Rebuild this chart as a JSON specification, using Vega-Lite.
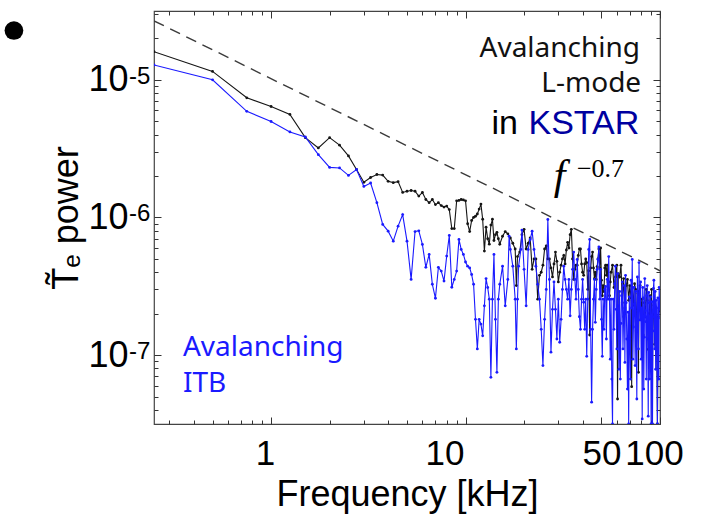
{
  "$schema": "https://vega.github.io/schema/vega-lite/v6.json",
  "width": 506,
  "height": 413,
  "autosize": {"type": "none"},
  "padding": {"left": 154, "top": 11, "right": 43, "bottom": 96},
  "background": "white",
  "config": {"view": {"stroke": "#444", "strokeWidth": 1.2}, "font": "Liberation Sans"},
  "datasets": {
    "fit": [{"f": 0.25, "p": 2.68e-5}, {"f": 100, "p": 4.1e-7}],
    "exps": [{"p": 1e-5, "e": "-5"}, {"p": 1e-6, "e": "-6"}, {"p": 1e-7, "e": "-7"}],
    "lm": [
      {"f":0.25,"p":1.6e-5},{"f":0.5,"p":1.15e-5},{"f":0.75,"p":7.4e-6},{"f":1,"p":6.4e-6},{"f":1.25,"p":5.6e-6},{"f":1.5,"p":3.8e-6},{"f":1.75,"p":3.2e-6},{"f":2,"p":3.8e-6},{"f":2.25,"p":3.35e-6},{"f":2.5,"p":2.8e-6},{"f":2.75,"p":2.23e-6},{"f":3,"p":1.8e-6},{"f":3.25,"p":1.95e-6},{"f":3.5,"p":2.05e-6},{"f":3.75,"p":2.03e-6},{"f":4,"p":1.83e-6},{"f":4.25,"p":1.79e-6},{"f":4.5,"p":1.82e-6},{"f":4.75,"p":1.52e-6},{"f":5,"p":1.55e-6},{"f":5.25,"p":1.57e-6},{"f":5.5,"p":1.55e-6},{"f":5.75,"p":1.43e-6},{"f":6,"p":1.52e-6},{"f":6.25,"p":1.35e-6},{"f":6.5,"p":1.28e-6},{"f":6.75,"p":1.35e-6},{"f":7,"p":1.24e-6},{"f":7.25,"p":1.28e-6},{"f":7.5,"p":1.22e-6},{"f":7.75,"p":1.19e-6},{"f":8,"p":1.21e-6},{"f":8.25,"p":1.14e-6},{"f":8.5,"p":8.3e-7},{"f":8.75,"p":8.3e-7},{"f":9,"p":1.32e-6},{"f":9.25,"p":1.33e-6},{"f":9.5,"p":1.35e-6},{"f":9.75,"p":1.34e-6},{"f":10,"p":1.32e-6},{"f":10.25,"p":9.0e-7},{"f":10.5,"p":7.9e-7},{"f":10.75,"p":9.5e-7},{"f":11,"p":1.0e-6},{"f":11.25,"p":1.02e-6},{"f":11.5,"p":1.06e-6},{"f":11.75,"p":1.15e-6},{"f":12,"p":1.25e-6},{"f":12.25,"p":9.7e-7},{"f":12.5,"p":5.7e-7},{"f":12.75,"p":8.5e-7},{"f":13,"p":7.0e-7},{"f":13.25,"p":6.4e-7},{"f":13.5,"p":8.8e-7},{"f":13.75,"p":9.7e-7},{"f":14,"p":6.8e-7},{"f":14.25,"p":7.5e-7},{"f":14.5,"p":7.8e-7},{"f":14.75,"p":7.0e-7},{"f":15,"p":6.4e-7},{"f":15.5,"p":7.3e-7},{"f":16,"p":7.9e-7},{"f":16.5,"p":7.6e-7},{"f":17,"p":7.1e-7},{"f":17.5,"p":6.5e-7},{"f":18,"p":5.9e-7},{"f":18.25,"p":3.2e-7},{"f":18.5,"p":5.2e-7},{"f":19,"p":5.6e-7},{"f":19.5,"p":7.5e-7},{"f":20,"p":8.2e-7},{"f":20.5,"p":5.9e-7},{"f":21,"p":6.5e-7},{"f":21.5,"p":7.1e-7},{"f":22,"p":4.2e-7},{"f":22.5,"p":5.0e-7},{"f":23,"p":5.0e-7},{"f":23.5,"p":2.55e-7},{"f":24,"p":3.8e-7},{"f":24.5,"p":4.0e-7},{"f":25,"p":4.5e-7},{"f":25.5,"p":5.9e-7},{"f":26,"p":6.2e-7},{"f":26.5,"p":5.0e-7},{"f":27,"p":5.0e-7},{"f":27.5,"p":4.3e-7},{"f":28,"p":3.7e-7},{"f":28.5,"p":4.6e-7},{"f":29,"p":5.6e-7},{"f":29.5,"p":4.8e-7},{"f":30,"p":3.4e-7},{"f":30.5,"p":4.0e-7},{"f":31,"p":4.5e-7},{"f":31.5,"p":5.0e-7},{"f":32,"p":5.3e-7},{"f":32.5,"p":4.6e-7},{"f":33,"p":5.8e-7},{"f":33.5,"p":6.6e-7},{"f":34,"p":6.0e-7},{"f":34.5,"p":7.5e-7},{"f":35,"p":8.2e-7},{"f":35.5,"p":5.0e-7},{"f":36,"p":3.55e-7},{"f":36.5,"p":4.2e-7},{"f":37,"p":4.5e-7},{"f":37.5,"p":4.5e-7},{"f":38,"p":5.3e-7},{"f":38.5,"p":5.9e-7},{"f":39,"p":5.9e-7},{"f":39.5,"p":4.6e-7},{"f":40,"p":4.0e-7},{"f":40.5,"p":3.8e-7},{"f":41,"p":4.6e-7},{"f":41.5,"p":5.0e-7},{"f":42,"p":4.7e-7},{"f":42.5,"p":3.0e-7},{"f":43,"p":4.1e-7},{"f":43.5,"p":1.4e-7},{"f":44,"p":4.3e-7},{"f":44.5,"p":5.2e-7},{"f":45,"p":5.6e-7},{"f":45.5,"p":4.3e-7},{"f":46,"p":3.6e-7},{"f":46.5,"p":4.0e-7},{"f":47,"p":3.55e-7},{"f":47.5,"p":4.4e-7},{"f":48,"p":5.0e-7},{"f":48.5,"p":5.9e-7},{"f":49,"p":4.3e-7},{"f":49.5,"p":6.0e-7},{"f":50,"p":3.5e-7},{"f":50.5,"p":2.7e-7},{"f":51,"p":3.2e-7},{"f":51.5,"p":2.9e-7},{"f":52,"p":4.3e-7},{"f":52.5,"p":4.5e-7},{"f":53,"p":3.8e-7},{"f":53.5,"p":4.5e-7},{"f":54,"p":3.4e-7},{"f":55,"p":2.7e-7},{"f":55.5,"p":3.4e-7},{"f":56,"p":4.0e-7},{"f":57,"p":4.5e-7},{"f":58,"p":3.1e-7},{"f":59,"p":3.7e-7},{"f":60,"p":4.5e-7},{"f":60.5,"p":4.8e-8},{"f":61,"p":3.9e-7},{"f":62,"p":3.7e-7},{"f":63,"p":4.5e-7},{"f":64,"p":2.4e-7},{"f":65,"p":3.6e-7},{"f":66,"p":2.2e-7},{"f":67,"p":3.2e-7},{"f":68,"p":3.55e-7},{"f":69,"p":2.5e-7},{"f":70,"p":3.2e-7},{"f":71,"p":2.6e-7},{"f":71.5,"p":5.9e-8},{"f":72,"p":3.1e-7},{"f":73,"p":2.3e-7},{"f":74,"p":3.3e-7},{"f":75,"p":3.0e-7},{"f":76,"p":1.6e-7},{"f":77,"p":2.8e-7},{"f":77.5,"p":7.5e-8},{"f":78,"p":2.9e-7},{"f":79,"p":3.2e-7},{"f":80,"p":2.1e-7},{"f":81,"p":2.55e-7},{"f":82,"p":1.4e-7},{"f":83,"p":2.4e-7},{"f":84,"p":1.9e-7},{"f":85,"p":3.0e-7},{"f":86,"p":2.5e-7},{"f":87,"p":1.1e-7},{"f":88,"p":2.0e-7},{"f":89,"p":2.7e-7},{"f":90,"p":1.5e-7},{"f":90.5,"p":3.0e-7},{"f":91,"p":3.17e-8},{"f":92,"p":2.0e-7},{"f":93,"p":2.3e-7},{"f":94,"p":1.2e-7},{"f":95,"p":2.2e-7},{"f":96,"p":1.7e-7},{"f":97,"p":3.17e-8},{"f":98,"p":1.9e-7},{"f":99,"p":2.1e-7},{"f":100,"p":2.2e-7}
    ],
    "itb": [
      {"f":0.25,"p":1.28e-5},{"f":0.5,"p":1.0e-5},{"f":0.75,"p":5.9e-6},{"f":1,"p":4.98e-6},{"f":1.25,"p":4.18e-6},{"f":1.5,"p":3.84e-6},{"f":1.75,"p":2.86e-6},{"f":2,"p":2.31e-6},{"f":2.25,"p":2.29e-6},{"f":2.5,"p":2.02e-6},{"f":2.75,"p":2.23e-6},{"f":3,"p":1.68e-6},{"f":3.25,"p":1.78e-6},{"f":3.5,"p":1.28e-6},{"f":3.75,"p":8.9e-7},{"f":4,"p":7.95e-7},{"f":4.25,"p":6.73e-7},{"f":4.5,"p":8.65e-7},{"f":4.75,"p":1.05e-6},{"f":5,"p":6.73e-7},{"f":5.25,"p":3.55e-7},{"f":5.5,"p":7.9e-7},{"f":5.75,"p":8.0e-7},{"f":6,"p":6.37e-7},{"f":6.25,"p":4.34e-7},{"f":6.5,"p":5.39e-7},{"f":6.75,"p":3.27e-7},{"f":7,"p":2.59e-7},{"f":7.25,"p":4.34e-7},{"f":7.5,"p":4.08e-7},{"f":7.75,"p":3.45e-7},{"f":8,"p":5.24e-7},{"f":8.25,"p":7.4e-7},{"f":8.5,"p":3.11e-7},{"f":8.75,"p":3.55e-7},{"f":9,"p":4.08e-7},{"f":9.25,"p":6.93e-7},{"f":9.5,"p":5.86e-7},{"f":9.75,"p":5.39e-7},{"f":10,"p":4.75e-7},{"f":10.25,"p":4.43e-7},{"f":10.5,"p":4.3e-7},{"f":10.75,"p":3.85e-7},{"f":11,"p":3.27e-7},{"f":11.25,"p":1.82e-7},{"f":11.5,"p":1.11e-7},{"f":11.75,"p":1.82e-7},{"f":12,"p":1.68e-7},{"f":12.25,"p":1.38e-7},{"f":12.5,"p":2.28e-7},{"f":12.75,"p":3.6e-7},{"f":13,"p":3.1e-7},{"f":13.25,"p":2.55e-7},{"f":13.5,"p":6.9e-8},{"f":13.75,"p":2.55e-7},{"f":14,"p":5.39e-7},{"f":14.25,"p":1.82e-7},{"f":14.5,"p":7.5e-8},{"f":14.75,"p":2.55e-7},{"f":15,"p":3.27e-7},{"f":15.5,"p":4.43e-7},{"f":16,"p":2.28e-7},{"f":16.5,"p":3.55e-7},{"f":16.75,"p":7.3e-7},{"f":17,"p":5.86e-7},{"f":17.5,"p":4.43e-7},{"f":18,"p":2.55e-7},{"f":18.25,"p":1.11e-7},{"f":18.5,"p":2.55e-7},{"f":18.75,"p":4.43e-7},{"f":19.25,"p":5.86e-7},{"f":19.5,"p":8.1e-7},{"f":20,"p":4.2e-7},{"f":20.5,"p":2.28e-7},{"f":21,"p":5.86e-7},{"f":21.5,"p":6.93e-7},{"f":22,"p":7.95e-7},{"f":22.5,"p":5.86e-7},{"f":23,"p":4.43e-7},{"f":23.5,"p":3.27e-7},{"f":24,"p":2.55e-7},{"f":24.5,"p":1.54e-7},{"f":25,"p":8.4e-8},{"f":25.5,"p":1.82e-7},{"f":26,"p":3.0e-7},{"f":26.5,"p":9.67e-7},{"f":27,"p":3.55e-7},{"f":27.5,"p":1.05e-7},{"f":28,"p":2.15e-7},{"f":28.5,"p":3.4e-7},{"f":29,"p":2.15e-7},{"f":29.5,"p":1.31e-7},{"f":30,"p":2.55e-7},{"f":30.5,"p":1.24e-7},{"f":31,"p":1.82e-7},{"f":31.5,"p":3.0e-7},{"f":32,"p":4.43e-7},{"f":32.5,"p":3.55e-7},{"f":33,"p":3.0e-7},{"f":33.5,"p":2.55e-7},{"f":34,"p":3.55e-7},{"f":34.5,"p":1.93e-7},{"f":35,"p":3.0e-7},{"f":35.5,"p":4.2e-7},{"f":36,"p":5.6e-7},{"f":36.5,"p":3.55e-7},{"f":37,"p":2.55e-7},{"f":37.5,"p":4.96e-7},{"f":38,"p":3.0e-7},{"f":38.5,"p":1.9e-7},{"f":39,"p":1.54e-7},{"f":39.5,"p":2.55e-7},{"f":40,"p":3.55e-7},{"f":40.5,"p":2.42e-7},{"f":41,"p":1.54e-7},{"f":41.5,"p":2.55e-7},{"f":42,"p":9.8e-8},{"f":42.5,"p":2.55e-7},{"f":43,"p":5.86e-7},{"f":43.5,"p":6.93e-7},{"f":44,"p":1.54e-7},{"f":44.5,"p":4.55e-8},{"f":45,"p":1.54e-7},{"f":45.5,"p":2.55e-7},{"f":46,"p":3.55e-7},{"f":46.5,"p":1.73e-7},{"f":47,"p":3.0e-7},{"f":47.5,"p":4.2e-7},{"f":48,"p":4.96e-7},{"f":48.5,"p":6.1e-7},{"f":49,"p":2.55e-7},{"f":49.5,"p":4.2e-7},{"f":50,"p":1.82e-7},{"f":50.5,"p":9.8e-8},{"f":51,"p":2.55e-7},{"f":51.5,"p":1.54e-7},{"f":52,"p":3.0e-7},{"f":52.5,"p":3.15e-7},{"f":53,"p":1.31e-7},{"f":53.5,"p":3.55e-7},{"f":54,"p":2.55e-7},{"f":54.5,"p":5.2e-7},{"f":55,"p":2.55e-7},{"f":55.5,"p":9.35e-8},{"f":56,"p":2.55e-7},{"f":56.5,"p":6.7e-8},{"f":57,"p":3.17e-8},{"f":57.5,"p":2.55e-7},{"f":58,"p":1.54e-7},{"f":58.5,"p":3.3e-7},{"f":59,"p":4.43e-7},{"f":59.5,"p":2.15e-7},{"f":60,"p":1.11e-7},{"f":60.5,"p":3.9e-7},{"f":61,"p":2.28e-7},{"f":61.5,"p":7.9e-8},{"f":62,"p":2.9e-7},{"f":62.5,"p":6.7e-8},{"f":63,"p":1.7e-7},{"f":63.5,"p":2.7e-7},{"f":64,"p":3.4e-7},{"f":64.5,"p":1.11e-7},{"f":65,"p":1.9e-7},{"f":65.5,"p":3.2e-7},{"f":66,"p":8.85e-8},{"f":66.5,"p":3.8e-7},{"f":67,"p":2.4e-7},{"f":67.5,"p":1.31e-7},{"f":68,"p":5.67e-8},{"f":68.5,"p":2.05e-7},{"f":69,"p":3.17e-8},{"f":69.5,"p":2.65e-7},{"f":70,"p":1.31e-7},{"f":70.5,"p":6.7e-8},{"f":71,"p":3.5e-7},{"f":71.5,"p":2.2e-7},{"f":72,"p":4.96e-7},{"f":72.5,"p":9.35e-8},{"f":73,"p":1.6e-7},{"f":73.5,"p":3.1e-7},{"f":74,"p":2.35e-7},{"f":74.5,"p":8.4e-8},{"f":75,"p":2.9e-7},{"f":75.5,"p":1.5e-7},{"f":76,"p":4.8e-8},{"f":76.5,"p":3.7e-7},{"f":77,"p":2.1e-7},{"f":77.5,"p":1.11e-7},{"f":78,"p":4.7e-7},{"f":78.5,"p":2.45e-7},{"f":79,"p":1.8e-7},{"f":79.5,"p":3.4e-7},{"f":80,"p":9.35e-8},{"f":80.5,"p":2.2e-7},{"f":81,"p":3.44e-8},{"f":81.5,"p":3.1e-7},{"f":82,"p":2.6e-7},{"f":82.5,"p":5.67e-8},{"f":83,"p":1.35e-7},{"f":83.5,"p":3.6e-7},{"f":84,"p":2.1e-7},{"f":84.5,"p":1.75e-7},{"f":85,"p":6.7e-8},{"f":85.5,"p":2.7e-7},{"f":86,"p":3.2e-7},{"f":86.5,"p":1.31e-7},{"f":87,"p":3.6e-8},{"f":87.5,"p":2.85e-7},{"f":88,"p":2.4e-7},{"f":88.5,"p":6.7e-8},{"f":89,"p":1.11e-7},{"f":89.5,"p":2.65e-7},{"f":90,"p":3.17e-8},{"f":90.5,"p":1.6e-7},{"f":91,"p":2.45e-7},{"f":91.5,"p":3.17e-8},{"f":92,"p":1.5e-7},{"f":92.5,"p":3.05e-7},{"f":93,"p":3.5e-7},{"f":93.5,"p":1.9e-7},{"f":94,"p":1.11e-7},{"f":94.5,"p":2.9e-7},{"f":95,"p":7.9e-8},{"f":95.5,"p":2.5e-7},{"f":96,"p":2.2e-7},{"f":96.5,"p":1.11e-7},{"f":97,"p":3.17e-8},{"f":97.5,"p":2.6e-7},{"f":98,"p":1.85e-7},{"f":98.5,"p":6.7e-8},{"f":99,"p":3.1e-7},{"f":99.5,"p":2.4e-7},{"f":100,"p":2.15e-7}
    ]
  },
  "layer": [
    {
      "data": {"name": "fit"},
      "mark": {"type": "line", "color": "#3a3a3a", "strokeDash": [11, 7], "strokeWidth": 1.4, "clip": true},
      "encoding": {
        "x": {
          "field": "f", "type": "quantitative",
          "scale": {"type": "log", "domain": [0.25, 100], "nice": false},
          "axis": {
            "orient": "bottom",
            "values": [0.3,0.4,0.5,0.6,0.7,0.8,0.9,1,2,3,4,5,6,7,8,9,10,20,30,40,50,60,70,80,90,100],
            "labelExpr": "datum.value == 1 ? '1' : datum.value == 10 ? '10' : datum.value == 50 ? '50' : datum.value == 100 ? '100' : ''",
            "tickSize": {"condition": {"test": "datum.value == 1 || datum.value == 10 || datum.value == 50 || datum.value == 100", "value": -7}, "value": -4},
            "labelOffset": {"condition": [{"test": "datum.value == 1", "value": -6}, {"test": "datum.value == 10", "value": -21}, {"test": "datum.value == 100", "value": -6}], "value": 0},
            "tickColor": "#333", "tickWidth": 1, "domain": false, "grid": false,
            "labelFontSize": 35, "labelFont": "Liberation Sans", "labelColor": "#000",
            "labelPadding": 19, "labelOverlap": false, "labelFlush": false,
            "title": "Frequency [kHz]", "titleFontSize": 36, "titleFont": "Liberation Sans",
            "titleFontWeight": "normal", "titleColor": "#000", "titlePadding": 3
          }
        },
        "y": {
          "field": "p", "type": "quantitative",
          "scale": {"type": "log", "domain": [3.16e-8, 3.16e-5], "nice": false},
          "axis": {
            "orient": "left",
            "values": [4e-8,5e-8,6e-8,7e-8,8e-8,9e-8,1e-7,2e-7,3e-7,4e-7,5e-7,6e-7,7e-7,8e-7,9e-7,1e-6,2e-6,3e-6,4e-6,5e-6,6e-6,7e-6,8e-6,9e-6,1e-5,2e-5,3e-5],
            "labelExpr": "datum.value == 1e-5 || datum.value == 1e-6 || datum.value == 1e-7 ? '10' : ''",
            "tickSize": {"condition": {"test": "datum.value == 1e-5 || datum.value == 1e-6 || datum.value == 1e-7", "value": -7}, "value": -4},
            "tickColor": "#333", "tickWidth": 1, "domain": false, "grid": false,
            "labelFontSize": 36, "labelFont": "Liberation Sans", "labelColor": "#000",
            "labelPadding": 33, "labelOverlap": false, "labelFlush": false,
            "title": "T̃ₑ power", "titleFontSize": 36, "titleFont": "Liberation Sans",
            "titleFontWeight": "normal", "titleColor": "#000", "titlePadding": 2
          }
        }
      }
    },
    {
      "data": {"name": "lm"},
      "mark": {"type": "line", "color": "#151515", "strokeWidth": 1.1, "clip": true, "point": {"filled": true, "size": 8, "color": "#151515"}},
      "encoding": {
        "x": {
          "field": "f", "type": "quantitative",
          "axis": {
            "orient": "top", "labels": false, "title": null, "domain": false, "grid": false,
            "values": [0.3,0.4,0.5,0.6,0.7,0.8,0.9,1,2,3,4,5,6,7,8,9,10,20,30,40,50,60,70,80,90,100],
            "tickSize": {"condition": {"test": "datum.value == 1 || datum.value == 10 || datum.value == 50 || datum.value == 100", "value": -7}, "value": -4},
            "tickColor": "#333", "tickWidth": 1
          }
        },
        "y": {
          "field": "p", "type": "quantitative",
          "axis": {
            "orient": "right", "labels": false, "title": null, "domain": false, "grid": false,
            "values": [4e-8,5e-8,6e-8,7e-8,8e-8,9e-8,1e-7,2e-7,3e-7,4e-7,5e-7,6e-7,7e-7,8e-7,9e-7,1e-6,2e-6,3e-6,4e-6,5e-6,6e-6,7e-6,8e-6,9e-6,1e-5,2e-5,3e-5],
            "tickSize": {"condition": {"test": "datum.value == 1e-5 || datum.value == 1e-6 || datum.value == 1e-7", "value": -7}, "value": -4},
            "tickColor": "#333", "tickWidth": 1
          }
        }
      }
    },
    {
      "data": {"name": "itb"},
      "mark": {"type": "line", "color": "#1a1aff", "strokeWidth": 1.1, "clip": true, "point": {"filled": true, "size": 8, "color": "#1a1aff"}},
      "encoding": {
        "x": {"field": "f", "type": "quantitative", "axis": null},
        "y": {"field": "p", "type": "quantitative", "axis": null}
      }
    },
    {
      "data": {"name": "exps"},
      "mark": {"type": "text", "align": "left", "baseline": "alphabetic", "font": "Liberation Sans", "fontSize": 24, "color": "#000", "dy": 4, "clip": false},
      "encoding": {
        "x": {"datum": 0.186, "type": "quantitative", "axis": null},
        "y": {"field": "p", "type": "quantitative", "axis": null},
        "text": {"field": "e"}
      }
    },
    {
      "data": {"values": [{}]},
      "mark": {"type": "text", "align": "right", "baseline": "alphabetic", "font": "Noto Sans", "fontSize": 28, "color": "#111"},
      "encoding": {
        "x": {"datum": 79, "type": "quantitative", "axis": null},
        "y": {"datum": 1.468e-5, "type": "quantitative", "axis": null},
        "text": {"value": "Avalanching"}
      }
    },
    {
      "data": {"values": [{}]},
      "mark": {"type": "text", "align": "right", "baseline": "alphabetic", "font": "Noto Sans", "fontSize": 28, "color": "#111"},
      "encoding": {
        "x": {"datum": 80, "type": "quantitative", "axis": null},
        "y": {"datum": 8.09e-6, "type": "quantitative", "axis": null},
        "text": {"value": "L-mode"}
      }
    },
    {
      "data": {"values": [{}]},
      "mark": {"type": "text", "align": "right", "baseline": "alphabetic", "font": "Liberation Sans", "fontSize": 34, "color": "#000"},
      "encoding": {
        "x": {"datum": 18.6, "type": "quantitative", "axis": null},
        "y": {"datum": 4.06e-6, "type": "quantitative", "axis": null},
        "text": {"value": "in"}
      }
    },
    {
      "data": {"values": [{}]},
      "mark": {"type": "text", "align": "right", "baseline": "alphabetic", "font": "Liberation Sans", "fontSize": 34, "color": "#0000a0"},
      "encoding": {
        "x": {"datum": 78.3, "type": "quantitative", "axis": null},
        "y": {"datum": 4.06e-6, "type": "quantitative", "axis": null},
        "text": {"value": "KSTAR"}
      }
    },
    {
      "data": {"values": [{}]},
      "mark": {"type": "text", "align": "left", "baseline": "alphabetic", "font": "Liberation Serif", "fontStyle": "italic", "fontSize": 42, "color": "#000"},
      "encoding": {
        "x": {"datum": 28.4, "type": "quantitative", "axis": null},
        "y": {"datum": 1.62e-6, "type": "quantitative", "axis": null},
        "text": {"value": "f"}
      }
    },
    {
      "data": {"values": [{}]},
      "mark": {"type": "text", "align": "left", "baseline": "alphabetic", "font": "Liberation Serif", "fontSize": 26, "color": "#000"},
      "encoding": {
        "x": {"datum": 37.4, "type": "quantitative", "axis": null},
        "y": {"datum": 1.98e-6, "type": "quantitative", "axis": null},
        "text": {"value": "−0.7"}
      }
    },
    {
      "data": {"values": [{}]},
      "mark": {"type": "text", "align": "left", "baseline": "alphabetic", "font": "Noto Sans", "fontSize": 28, "color": "#1a1aff"},
      "encoding": {
        "x": {"datum": 0.352, "type": "quantitative", "axis": null},
        "y": {"datum": 9.88e-8, "type": "quantitative", "axis": null},
        "text": {"value": "Avalanching"}
      }
    },
    {
      "data": {"values": [{}]},
      "mark": {"type": "text", "align": "left", "baseline": "alphabetic", "font": "Noto Sans", "fontSize": 28, "color": "#1a1aff"},
      "encoding": {
        "x": {"datum": 0.352, "type": "quantitative", "axis": null},
        "y": {"datum": 5.36e-8, "type": "quantitative", "axis": null},
        "text": {"value": "ITB"}
      }
    },
    {
      "data": {"values": [{}]},
      "mark": {"type": "point", "shape": "circle", "filled": true, "size": 350, "color": "#000", "opacity": 1, "clip": false},
      "encoding": {
        "x": {"datum": 0.0476, "type": "quantitative", "axis": null},
        "y": {"datum": 2.28e-5, "type": "quantitative", "axis": null}
      }
    }
  ],
  "resolve": {"axis": {"x": "independent", "y": "independent"}}
}
